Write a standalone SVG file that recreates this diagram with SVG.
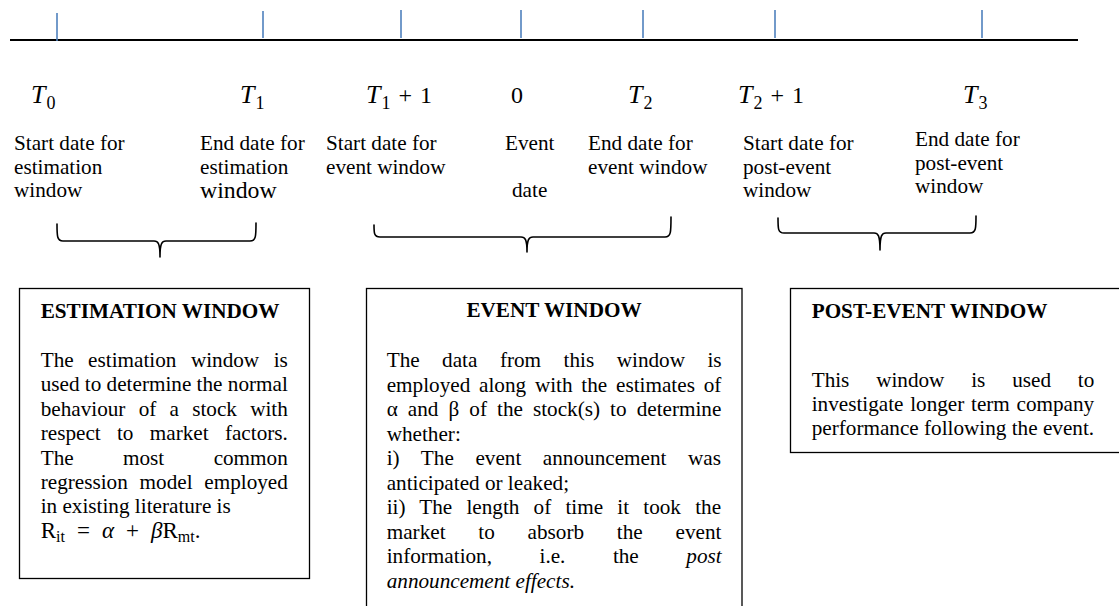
<svg xmlns="http://www.w3.org/2000/svg" width="1119" height="606" viewBox="0 0 1119 606">
  <style>
    text{font-family:"Liberation Serif","Times New Roman",serif;fill:#000}
    .t{font-size:21.2px}
    .big{font-size:23.8px}
    .h{font-size:21.2px;font-weight:bold}
    .m{font-size:26px;font-style:italic}
    .sub{font-size:18px;font-style:normal}
    .up{font-size:24px;font-style:normal}
    .n{font-size:24px}
    .it{font-style:italic}
    .fx{font-size:23px}
    .fs{font-size:16px}
    .tick{stroke:#4F81BD;stroke-width:1.6}
    .axis{stroke:#000;stroke-width:2.2}
    .brace{fill:none;stroke:#000;stroke-width:1.6;stroke-linejoin:round;stroke-linecap:round}
    .box{fill:#fff;stroke:#000;stroke-width:1.3}
  </style>

  <rect width="1119" height="606" fill="#fff"/>

  <!-- time axis with date ticks -->
  <g id="timeline">
    <line class="axis" x1="10" y1="40" x2="1078" y2="40"/>
    <line class="tick" x1="57" y1="13" x2="57" y2="41"/>
    <line class="tick" x1="263" y1="11" x2="263" y2="38"/>
    <line class="tick" x1="401" y1="10" x2="401" y2="38"/>
    <line class="tick" x1="521" y1="10" x2="521" y2="38"/>
    <line class="tick" x1="643" y1="10" x2="643" y2="38"/>
    <line class="tick" x1="775" y1="10" x2="775" y2="38"/>
    <line class="tick" x1="982" y1="10" x2="982" y2="38"/>
  </g>

  <!-- date symbols -->
  <g id="date-symbols">
    <text class="m" x="31" y="103">T<tspan class="sub" dx="1" dy="6">0</tspan></text>
    <text class="m" x="240" y="103">T<tspan class="sub" dx="1" dy="6">1</tspan></text>
    <text class="m" x="366" y="103">T<tspan class="sub" dx="1" dy="6">1</tspan><tspan class="up" dx="8" dy="-6">+</tspan><tspan class="up" dx="8">1</tspan></text>
    <text class="n" x="511" y="103">0</text>
    <text class="m" x="628" y="103">T<tspan class="sub" dx="1" dy="6">2</tspan></text>
    <text class="m" x="738" y="103">T<tspan class="sub" dx="1" dy="6">2</tspan><tspan class="up" dx="8" dy="-6">+</tspan><tspan class="up" dx="8">1</tspan></text>
    <text class="m" x="963" y="103">T<tspan class="sub" dx="1" dy="6">3</tspan></text>
  </g>

  <!-- date descriptions -->
  <g id="label-t0">
    <text class="t" x="14" y="150">Start date for</text>
    <text class="t" x="14" y="174">estimation</text>
    <text class="t" x="14" y="197">window</text>
  </g>
  <g id="label-t1">
    <text class="t" x="200" y="150">End date for</text>
    <text class="t" x="200" y="174">estimation</text>
    <text class="big" x="200" y="198">window</text>
  </g>
  <g id="label-t1p1">
    <text class="t" x="326" y="150">Start date for</text>
    <text class="t" x="326" y="174">event window</text>
  </g>
  <g id="label-event">
    <text class="t" x="505" y="150">Event</text>
    <text class="t" x="512" y="197">date</text>
  </g>
  <g id="label-t2">
    <text class="t" x="588" y="150">End date for</text>
    <text class="t" x="588" y="174">event window</text>
  </g>
  <g id="label-t2p1">
    <text class="t" x="743" y="150">Start date for</text>
    <text class="t" x="743" y="174">post-event</text>
    <text class="t" x="743" y="197">window</text>
  </g>
  <g id="label-t3">
    <text class="t" x="915" y="146">End date for</text>
    <text class="t" x="915" y="170">post-event</text>
    <text class="t" x="915" y="193">window</text>
  </g>

  <!-- braces grouping the dates into windows -->
  <g id="connectors">
    <path class="brace" d="M57,224 C57,236 57,241 63,241 L154,241 C158,241 160,243 160,257 C160,243 162,241 166,241 L250,241 C256,241 256,236 256,223"/>
    <path class="brace" d="M374,225 C374,233 374,237 380,237 L521,237 C525,237 527,239 527,252 C527,239 529,237 533,237 L665,237 C671,237 671,232 671,217"/>
    <path class="brace" d="M778,218 C778,229 778,233 784,233 L874,233 C878,233 880,235 880,250 C880,235 882,233 886,233 L970,233 C976,233 976,228 976,216"/>
  </g>

  <!-- estimation window -->
  <g id="estimation-window">
    <rect class="box" x="19.5" y="288.5" width="290" height="290"/>
    <text class="h" x="40.7" y="318">ESTIMATION WINDOW</text>
    <text class="t" x="40.7" y="367" word-spacing="9.2">The estimation window is</text>
    <text class="t" x="40.7" y="391.4">used to determine the normal</text>
    <text class="t" x="40.7" y="415.8" word-spacing="7.95">behaviour of a stock with</text>
    <text class="t" x="40.7" y="440.2" word-spacing="11">respect to market factors.</text>
    <text class="t" x="40.7" y="464.6" word-spacing="44.1">The most common</text>
    <text class="t" x="40.7" y="489" word-spacing="6.5">regression model employed</text>
    <text class="t" x="40.7" y="513.4">in existing literature is</text>
    <text class="fx" x="40.7" y="538">R<tspan class="fs" dy="4">it</tspan><tspan dx="12" dy="-4">=</tspan><tspan class="it" dx="12">α</tspan><tspan dx="12">+</tspan><tspan class="it" dx="12">β</tspan>R<tspan class="fs" dy="4">mt</tspan><tspan dy="-4">.</tspan></text>
  </g>

  <!-- event window -->
  <g id="event-window">
    <rect class="box" x="366.5" y="288.5" width="375.5" height="330"/>
    <text class="h" x="554" y="317" text-anchor="middle">EVENT WINDOW</text>
    <text class="t" x="386.7" y="367" word-spacing="17.2">The data from this window is</text>
    <text class="t" x="386.7" y="391.5" word-spacing="3.5">employed along with the estimates of</text>
    <text class="t" x="386.7" y="416" word-spacing="4.76">α and β of the stock(s) to determine</text>
    <text class="t" x="386.7" y="440.5">whether:</text>
    <text class="t" x="386.7" y="465" word-spacing="16.3">i) The event announcement was</text>
    <text class="t" x="386.7" y="489.5">anticipated or leaked;</text>
    <text class="t" x="386.7" y="514" word-spacing="8.9">ii) The length of time it took the</text>
    <text class="t" x="386.7" y="538.5" word-spacing="27.5">market to absorb the event</text>
    <text class="t" x="386.7" y="563" word-spacing="42.2">information, i.e. the <tspan class="it">post</tspan></text>
    <text class="t it" x="386.7" y="587.5">announcement effects.</text>
  </g>

  <!-- post-event window -->
  <g id="post-event-window">
    <rect class="box" x="790.5" y="288.5" width="340" height="164"/>
    <text class="h" x="811.7" y="318">POST-EVENT WINDOW</text>
    <text class="t" x="811.7" y="387" word-spacing="21.5">This window is used to</text>
    <text class="t" x="811.7" y="411" word-spacing="1.4">investigate longer term company</text>
    <text class="t" x="811.7" y="435">performance following the event.</text>
  </g>
</svg>
